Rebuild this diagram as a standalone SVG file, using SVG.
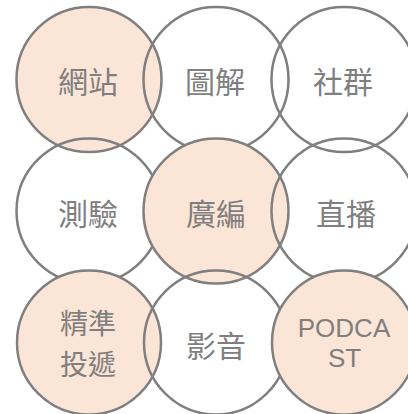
<svg xmlns="http://www.w3.org/2000/svg" width="408" height="414" viewBox="0 0 408 414">
<style>
.c{stroke:#7f7f7f;stroke-width:2.5;fill:none}
.p{fill:#fbe5d6}
.t{font-family:"Noto Sans CJK TC","Noto Sans CJK SC",sans-serif;font-size:30px;fill:#7f7f7f;text-anchor:middle;dominant-baseline:central}
.s{font-size:28px}
.l{font-family:"Liberation Sans",Arial,sans-serif;font-size:26px;fill:#7f7f7f;text-anchor:middle}
</style>
<rect width="408" height="414" fill="#ffffff"/>
<g id="n1"><circle class="c p" cx="89" cy="79.5" r="72.5"/><text class="t" x="88" y="80">網站</text></g>
<g id="n2"><circle class="c" cx="216" cy="79.5" r="72.5"/><text class="t" x="215" y="80">圖解</text></g>
<g id="n3"><circle class="c" cx="344" cy="79.5" r="72.5"/><text class="t" x="343" y="80">社群</text></g>
<g id="n4"><circle class="c" cx="89" cy="211" r="72.5"/><text class="t" x="88" y="211.5">測驗</text></g>
<g id="n5"><circle class="c p" cx="216" cy="211" r="72.5"/><text class="t" x="216" y="211.5">廣編</text></g>
<g id="n6"><circle class="c" cx="344" cy="211" r="72.5"/><text class="t" x="346" y="211.5">直播</text></g>
<g id="n7"><circle class="c p" cx="89" cy="342.5" r="72"/><text class="t s" x="88" y="321.5">精準</text><text class="t s" x="88" y="362.5">投遞</text></g>
<g id="n8"><circle class="c" cx="216" cy="342.5" r="72"/><text class="t" x="216" y="343.5">影音</text></g>
<g id="n9"><circle class="c p" cx="344" cy="342.5" r="72"/><text class="l" x="344" y="337">PODCA</text><text class="l" x="344.5" y="367">ST</text></g>
<g id="connectors"></g>
</svg>
